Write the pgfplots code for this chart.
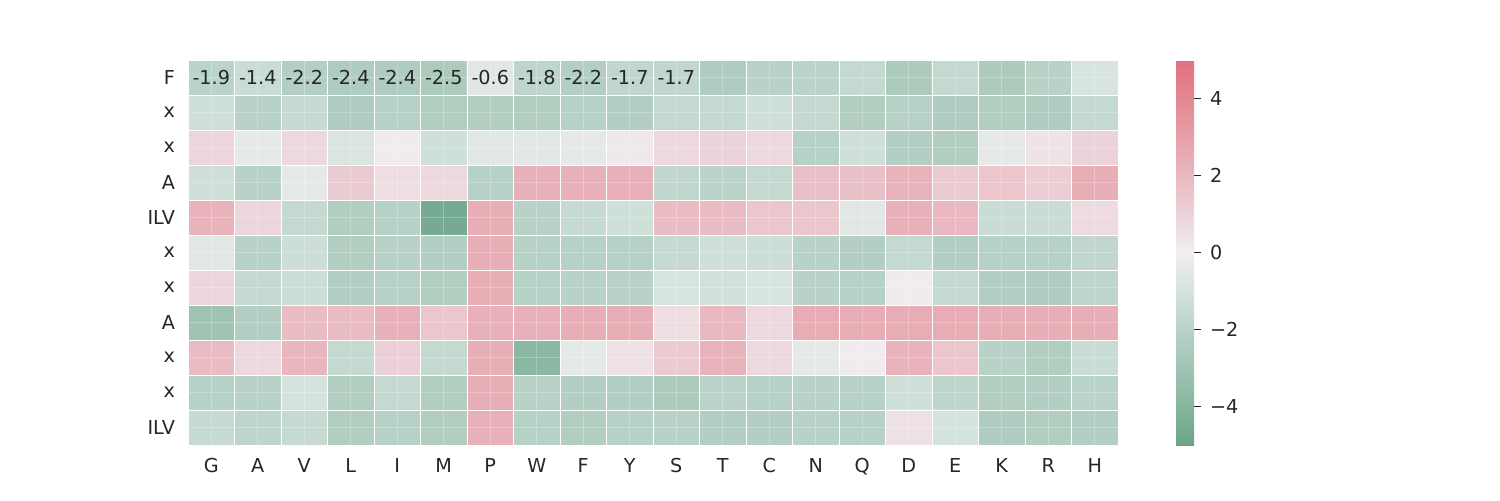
\documentclass[border=0pt]{standalone}
\usepackage{fontspec}
\setmainfont{DejaVu Sans}
\usepackage{pgfplots}
\pgfplotsset{compat=1.18}
\usepackage{pgfplotstable}
\definecolor{tc}{RGB}{38,38,38}
\pgfplotsset{colormap={sea}{rgb255=(107,163,137) rgb255=(134,181,159) rgb255=(160,196,180) rgb255=(184,210,199) rgb255=(213,227,222) rgb255=(240,238,240) rgb255=(236,211,217) rgb255=(233,184,192) rgb255=(230,160,168) rgb255=(228,136,146) rgb255=(226,112,124)}}
% x = column (G..H), y = row (F, x, x, A, ILV, x, x, A, x, x, ILV), c = value
\pgfplotstableread[row sep=\\]{
x y c\\
0 0 -1.9\\ 1 0 -1.4\\ 2 0 -2.2\\ 3 0 -2.4\\ 4 0 -2.4\\ 5 0 -2.5\\ 6 0 -0.6\\ 7 0 -1.8\\ 8 0 -2.2\\ 9 0 -1.7\\ 10 0 -1.7\\ 11 0 -2.4\\ 12 0 -2.0\\ 13 0 -1.9\\ 14 0 -1.6\\ 15 0 -2.5\\ 16 0 -1.6\\ 17 0 -2.5\\ 18 0 -2.0\\ 19 0 -0.9\\
0 1 -1.2\\ 1 1 -2.0\\ 2 1 -1.5\\ 3 1 -2.4\\ 4 1 -2.1\\ 5 1 -2.3\\ 6 1 -2.3\\ 7 1 -2.3\\ 8 1 -2.1\\ 9 1 -2.2\\ 10 1 -1.6\\ 11 1 -1.6\\ 12 1 -1.2\\ 13 1 -1.6\\ 14 1 -2.3\\ 15 1 -2.1\\ 16 1 -2.4\\ 17 1 -2.3\\ 18 1 -2.4\\ 19 1 -1.6\\
0 2 0.9\\ 1 2 -0.4\\ 2 2 0.8\\ 3 2 -0.8\\ 4 2 0.1\\ 5 2 -1.2\\ 6 2 -0.6\\ 7 2 -0.5\\ 8 2 -0.4\\ 9 2 0.2\\ 10 2 0.8\\ 11 2 1.0\\ 12 2 0.8\\ 13 2 -2.1\\ 14 2 -1.2\\ 15 2 -2.2\\ 16 2 -2.3\\ 17 2 -0.4\\ 18 2 0.4\\ 19 2 1.0\\
0 3 -1.2\\ 1 3 -2.0\\ 2 3 -0.4\\ 3 3 1.3\\ 4 3 0.6\\ 5 3 0.8\\ 6 3 -2.1\\ 7 3 2.3\\ 8 3 2.3\\ 9 3 2.3\\ 10 3 -1.7\\ 11 3 -1.9\\ 12 3 -1.6\\ 13 3 1.7\\ 14 3 1.7\\ 15 3 2.2\\ 16 3 1.3\\ 17 3 1.5\\ 18 3 1.2\\ 19 3 2.4\\
0 4 2.2\\ 1 4 0.9\\ 2 4 -1.6\\ 3 4 -2.3\\ 4 4 -2.1\\ 5 4 -4.6\\ 6 4 2.4\\ 7 4 -2.0\\ 8 4 -1.5\\ 9 4 -1.2\\ 10 4 1.8\\ 11 4 1.8\\ 12 4 1.5\\ 13 4 1.5\\ 14 4 -0.6\\ 15 4 2.3\\ 16 4 2.0\\ 17 4 -1.4\\ 18 4 -1.4\\ 19 4 0.7\\
0 5 -0.6\\ 1 5 -2.0\\ 2 5 -1.3\\ 3 5 -2.3\\ 4 5 -2.0\\ 5 5 -2.2\\ 6 5 2.4\\ 7 5 -2.1\\ 8 5 -2.1\\ 9 5 -2.1\\ 10 5 -1.5\\ 11 5 -1.2\\ 12 5 -1.3\\ 13 5 -2.0\\ 14 5 -2.2\\ 15 5 -1.6\\ 16 5 -2.2\\ 17 5 -2.1\\ 18 5 -2.1\\ 19 5 -1.7\\
0 6 0.9\\ 1 6 -1.6\\ 2 6 -1.3\\ 3 6 -2.2\\ 4 6 -2.1\\ 5 6 -2.3\\ 6 6 2.4\\ 7 6 -2.1\\ 8 6 -2.0\\ 9 6 -2.0\\ 10 6 -0.9\\ 11 6 -1.1\\ 12 6 -0.9\\ 13 6 -2.0\\ 14 6 -2.1\\ 15 6 0.1\\ 16 6 -1.6\\ 17 6 -2.2\\ 18 6 -2.4\\ 19 6 -1.8\\
0 7 -3.0\\ 1 7 -2.2\\ 2 7 1.8\\ 3 7 1.9\\ 4 7 2.3\\ 5 7 1.5\\ 6 7 2.3\\ 7 7 2.3\\ 8 7 2.4\\ 9 7 2.4\\ 10 7 0.6\\ 11 7 2.0\\ 12 7 0.8\\ 13 7 2.5\\ 14 7 2.5\\ 15 7 2.5\\ 16 7 2.5\\ 17 7 2.4\\ 18 7 2.4\\ 19 7 2.4\\
0 8 1.9\\ 1 8 0.8\\ 2 8 2.1\\ 3 8 -1.6\\ 4 8 1.1\\ 5 8 -1.6\\ 6 8 2.4\\ 7 8 -3.8\\ 8 8 -0.4\\ 9 8 0.5\\ 10 8 1.3\\ 11 8 2.2\\ 12 8 0.8\\ 13 8 -0.4\\ 14 8 0.1\\ 15 8 2.2\\ 16 8 1.5\\ 17 8 -2.0\\ 18 8 -2.3\\ 19 8 -1.4\\
0 9 -2.1\\ 1 9 -2.0\\ 2 9 -1.0\\ 3 9 -2.3\\ 4 9 -1.6\\ 5 9 -2.3\\ 6 9 2.4\\ 7 9 -2.0\\ 8 9 -2.2\\ 9 9 -2.2\\ 10 9 -2.5\\ 11 9 -1.9\\ 12 9 -2.1\\ 13 9 -2.0\\ 14 9 -2.1\\ 15 9 -1.2\\ 16 9 -1.8\\ 17 9 -2.3\\ 18 9 -2.2\\ 19 9 -1.9\\
0 10 -1.5\\ 1 10 -1.8\\ 2 10 -1.5\\ 3 10 -2.3\\ 4 10 -2.1\\ 5 10 -2.3\\ 6 10 2.3\\ 7 10 -2.1\\ 8 10 -2.3\\ 9 10 -2.1\\ 10 10 -2.0\\ 11 10 -2.2\\ 12 10 -2.2\\ 13 10 -2.0\\ 14 10 -2.1\\ 15 10 0.5\\ 16 10 -1.0\\ 17 10 -2.4\\ 18 10 -2.3\\ 19 10 -2.2\\
}\heat
\newcommand{\tf}{\fontsize{9.6}{11}\selectfont}
\begin{document}
\begin{tikzpicture}
\useasboundingbox (0,0) rectangle (750pt,250pt);
\begin{axis}[
  at={(94pt,27.5pt)}, anchor=south west, scale only axis,
  width=465pt, height=192.5pt,
  xmin=-0.5, xmax=19.5, ymin=-0.5, ymax=10.5, y dir=reverse,
  axis line style={draw=none}, major tick length=0pt, minor tick length=0pt,
  xtick={0,...,19}, xticklabels={G,A,V,L,I,M,P,W,F,Y,S,T,C,N,Q,D,E,K,R,H},
  ytick={0,...,10}, yticklabels={F,x,x,A,ILV,x,x,A,x,x,ILV},
  minor xtick={-0.5,0.5,...,19.5}, minor ytick={-0.5,0.5,...,10.5},
  grid=both,
  major grid style={white, opacity=0.25, line width=0.3pt},
  minor grid style={white, line width=0.5pt},
  axis on top,
  ticklabel style={font=\tf, text=tc},
  xticklabel style={yshift=-3pt},
  yticklabel style={xshift=-3pt},
  colormap name=sea, point meta min=-5, point meta max=5,
  colorbar,
  colorbar style={
    at={(parent axis.north east)}, anchor=north west, xshift=20.5pt,
    width=9pt, scale only axis,
    ytick={-4,-2,0,2,4}, yticklabels={−4,−2,0,2,4},
    axis line style={draw=none}, tick align=outside, ytick pos=right,
    major tick length=3.5pt, major tick style={tc, line width=0.6pt},
    yticklabel style={font=\tf, text=tc, xshift=1pt},
  },
]
\addplot[matrix plot*, mesh/cols=20, point meta=explicit, shader=flat corner]
  table[x=x, y=y, meta=c] {\heat};
\addplot[draw=none, mark=none, nodes near coords, point meta=explicit symbolic,
  every node near coord/.append style={font=\tf, text=tc, anchor=center}]
  table[meta=t, row sep=\\]{
x y t\\
0 0 -1.9\\ 1 0 -1.4\\ 2 0 -2.2\\ 3 0 -2.4\\ 4 0 -2.4\\ 5 0 -2.5\\ 6 0 -0.6\\ 7 0 -1.8\\ 8 0 -2.2\\ 9 0 -1.7\\ 10 0 -1.7\\
};
\end{axis}
\end{tikzpicture}
\end{document}
